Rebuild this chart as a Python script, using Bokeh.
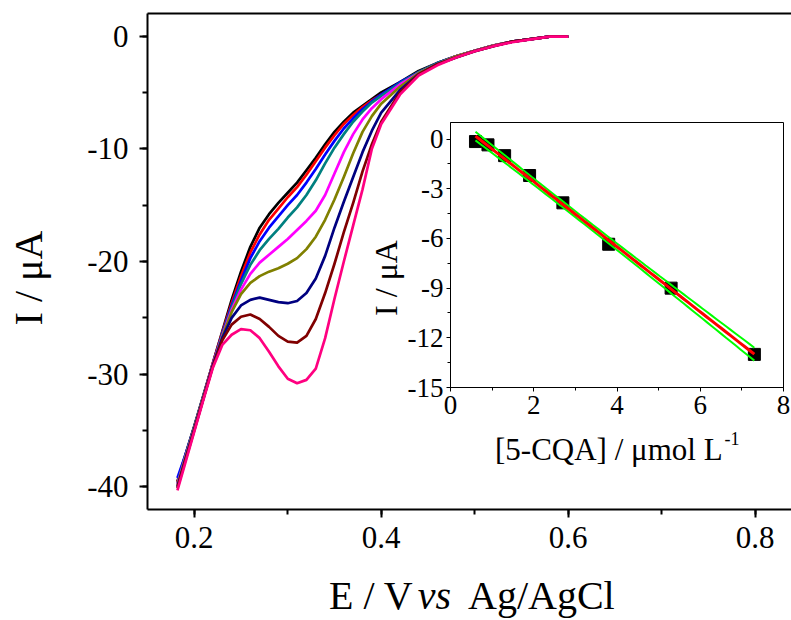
import numpy as np
from bokeh.plotting import figure
from bokeh.models import Range1d, LinearAxis, SingleIntervalTicker, FixedTicker, PrintfTickFormatter, Div
from bokeh.embed import file_html
from bokeh.resources import INLINE

FONT = "Liberation Serif"

# ---------------- main voltammograms ----------------
E = [0.182, 0.19, 0.20, 0.21, 0.22, 0.23, 0.24, 0.25, 0.26, 0.27, 0.28, 0.29, 0.30,
     0.31, 0.32, 0.33, 0.34, 0.35, 0.36, 0.37, 0.38, 0.39, 0.40, 0.42, 0.44, 0.46,
     0.48, 0.50, 0.52, 0.54, 0.56, 0.58, 0.60]

I_black = [-39.5, -37.3, -34.6, -31.8, -29.0, -26.2, -23.4, -20.9, -18.7, -17.0, -15.8, -14.8, -13.9,
           -13.0, -11.9, -10.8, -9.6, -8.5, -7.6, -6.8, -6.2, -5.6, -5.0, -4.1, -3.1, -2.4,
           -1.8, -1.3, -0.85, -0.5, -0.28, -0.05, -0.05]
I_red = [-39.6, -37.4, -34.7, -31.9, -29.0, -26.3, -23.7, -21.3, -19.2, -17.6, -16.3, -15.3, -14.3,
         -13.4, -12.3, -11.1, -9.9, -8.8, -7.8, -7.0, -6.3, -5.7, -5.2, -4.2, -3.2, -2.4,
         -1.8, -1.3, -0.85, -0.5, -0.28, -0.05, -0.05]
I_blue = [-39.2, -37.3, -34.7, -31.9, -29.1, -26.4, -23.9, -21.7, -19.7, -18.2, -17.0, -16.0, -15.0,
          -14.1, -13.0, -11.8, -10.5, -9.3, -8.2, -7.3, -6.5, -5.8, -5.2, -4.1, -3.2, -2.4,
          -1.8, -1.3, -0.85, -0.5, -0.28, -0.05, -0.05]
I_teal = [-39.7, -37.4, -34.7, -31.9, -29.1, -26.5, -24.1, -22.0, -20.3, -19.0, -18.0, -17.1, -16.1,
          -15.2, -14.1, -12.8, -11.3, -9.9, -8.7, -7.6, -6.7, -5.9, -5.3, -4.2, -3.2, -2.4,
          -1.8, -1.3, -0.85, -0.5, -0.28, -0.05, -0.05]
I_magenta = [-39.8, -37.5, -34.8, -32.0, -29.1, -26.6, -24.3, -22.5, -21.1, -20.1, -19.4, -18.7, -18.0,
             -17.2, -16.4, -15.5, -14.1, -12.2, -10.3, -8.7, -7.4, -6.4, -5.6, -4.3, -3.3, -2.5,
             -1.8, -1.3, -0.85, -0.5, -0.28, -0.05, -0.05]
I_olive = [-39.9, -37.6, -34.8, -32.0, -29.2, -26.7, -24.5, -22.9, -21.9, -21.3, -20.9, -20.6, -20.2,
           -19.7, -18.9, -17.8, -16.3, -14.5, -12.5, -10.4, -8.5, -7.1, -6.0, -4.5, -3.3, -2.5,
           -1.8, -1.3, -0.85, -0.5, -0.28, -0.05, -0.05]
I_navy = [-40.0, -37.7, -34.9, -32.1, -29.2, -26.8, -25.0, -23.9, -23.4, -23.2, -23.4, -23.6, -23.7,
          -23.5, -22.8, -21.5, -19.5, -17.0, -14.7, -12.5, -10.3, -8.4, -6.8, -4.8, -3.4, -2.5,
          -1.9, -1.35, -0.9, -0.5, -0.28, -0.05, -0.05]
I_maroon = [-40.1, -37.8, -35.0, -32.1, -29.3, -27.0, -25.6, -24.9, -24.7, -25.1, -25.8, -26.6, -27.1,
            -27.2, -26.6, -25.1, -22.8, -20.2, -17.4, -14.8, -12.0, -9.6, -7.6, -5.0, -3.4, -2.5,
            -1.9, -1.35, -0.9, -0.5, -0.28, -0.05, -0.05]
I_pink = [-40.3, -38.0, -35.1, -32.2, -29.4, -27.4, -26.5, -26.0, -26.1, -26.8, -28.0, -29.3, -30.4,
          -30.8, -30.5, -29.5, -26.8, -23.3, -20.0, -16.8, -13.6, -10.0, -7.8, -5.2, -3.5, -2.6,
          -1.9, -1.35, -0.9, -0.55, -0.3, -0.05, -0.05]

curves = [I_black, I_red, I_blue, I_teal, I_magenta, I_olive, I_navy, I_maroon, I_pink]
colors = ["#000000", "#FF0000", "#0000FF", "#008080", "#FF00FF", "#808000", "#000080", "#800000", "#FF0080"]

main_x_ticks_interval = 0.2
main_y_ticks_interval = 10

# ---------------- inset calibration ----------------
conc = [0.6, 0.9, 1.3, 1.9, 2.7, 3.8, 5.3, 7.3]
I_peak = [-0.15, -0.35, -1.0, -2.2, -3.85, -6.35, -9.0, -13.0]
T95 = 2.4469  # Student t, 6 degrees of freedom

# ---------------- layout (page pixels) ----------------
W, H = 791, 620
ML, MT, MB = 147, 13, 111
MX0, MX1, MY0, MY1 = 0.15, 0.8388, -42.0, 2.0

IL, IT = 360, 112
IBL, IBT, IBR, IBB = 90, 10, 8, 90
IW, IH = 431, 365
IX0, IX1, IY0, IY1 = 0.0, 8.0, -15.0, 1.0

# ---------------- main figure ----------------
p = figure(width=W, height=H, output_backend="svg", toolbar_location=None,
           x_range=Range1d(MX0, MX1), y_range=Range1d(MY0, MY1),
           min_border_left=ML, min_border_right=0, min_border_top=MT, min_border_bottom=MB)
p.outline_line_color = None
p.xgrid.grid_line_color = None
p.ygrid.grid_line_color = None
p.background_fill_color = "white"
p.border_fill_color = "white"

for ys, c in zip(curves, colors):
    p.line(E, ys, line_color=c, line_width=2.7, line_join="round")

for ax in (p.xaxis[0], p.yaxis[0]):
    ax.axis_line_width = 2
    ax.major_tick_line_width = 2
    ax.minor_tick_line_width = 2
    ax.major_tick_in = 0
    ax.major_tick_out = 8
    ax.minor_tick_in = 0
    ax.minor_tick_out = 5
    ax.major_label_text_font = FONT
    ax.major_label_text_font_size = "31px"
    ax.major_label_text_color = "black"

p.xaxis[0].ticker = SingleIntervalTicker(interval=main_x_ticks_interval, num_minor_ticks=2)
p.yaxis[0].ticker = SingleIntervalTicker(interval=main_y_ticks_interval, num_minor_ticks=2)
p.xaxis[0].formatter = PrintfTickFormatter(format="%.1f")
p.yaxis[0].formatter = PrintfTickFormatter(format="%d")
p.xaxis[0].major_label_standoff = 9
p.yaxis[0].major_label_standoff = 11

top = LinearAxis(ticker=FixedTicker(ticks=[]), axis_line_width=2, major_tick_out=0, minor_tick_out=0,
                 major_tick_in=0, minor_tick_in=0, major_label_text_font_size="0px")
p.add_layout(top, "above")

# ---------------- inset figure ----------------
ins = figure(width=IW, height=IH, output_backend="svg", toolbar_location=None,
             x_range=Range1d(IX0, IX1), y_range=Range1d(IY0, IY1),
             min_border_left=IBL, min_border_right=IBR, min_border_top=IBT, min_border_bottom=IBB,
             styles={"position": "absolute", "left": f"{IL}px", "top": f"{IT}px"})
ins.border_fill_color = None
ins.background_fill_color = "white"
ins.outline_line_color = "black"
ins.outline_line_width = 1
ins.xgrid.grid_line_color = None
ins.ygrid.grid_line_color = None

x = np.array(conc)
y = np.array(I_peak)
slope, icpt = np.polyfit(x, y, 1)
resid = y - (slope * x + icpt)
s = np.sqrt(np.sum(resid ** 2) / (len(x) - 2))
sxx = np.sum((x - x.mean()) ** 2)
xf = np.linspace(x.min(), x.max(), 60)
yf = slope * xf + icpt
half = T95 * s * np.sqrt(1.0 / len(x) + (xf - x.mean()) ** 2 / sxx)

ins.scatter(conc, I_peak, marker="square", size=12, fill_color="black", line_color="black")
ins.line(xf, yf + half, line_color="#00FF00", line_width=2)
ins.line(xf, yf - half, line_color="#00FF00", line_width=2)
ins.line(xf, yf, line_color="#FF0000", line_width=3)

for ax in (ins.xaxis[0], ins.yaxis[0]):
    ax.axis_line_width = 1
    ax.major_tick_line_width = 1
    ax.minor_tick_line_width = 1
    ax.major_tick_in = 0
    ax.major_tick_out = 4
    ax.minor_tick_in = 0
    ax.minor_tick_out = 3
    ax.major_label_text_font = FONT
    ax.major_label_text_font_size = "27px"
    ax.major_label_text_color = "black"
ins.xaxis[0].ticker = SingleIntervalTicker(interval=2, num_minor_ticks=2)
ins.yaxis[0].ticker = SingleIntervalTicker(interval=3, num_minor_ticks=2)
ins.xaxis[0].formatter = PrintfTickFormatter(format="%d")
ins.yaxis[0].formatter = PrintfTickFormatter(format="%d")
ins.xaxis[0].major_label_standoff = 4
ins.yaxis[0].major_label_standoff = 3


# ---------------- axis titles as HTML text ----------------
def title_div(html, left, top, w, h, size, rotate=False):
    st = {"position": "absolute", "left": f"{left}px", "top": f"{top}px",
          "margin": "0", "padding": "0", "overflow": "visible"}
    if rotate:
        st["transform"] = "rotate(-90deg)"
        st["transform-origin"] = "50% 50%"
    inner = (f'<div style="font-family:\'{FONT}\';font-size:{size}px;line-height:{h}px;'
             f'color:black;white-space:nowrap;text-align:{"center" if rotate else "left"};'
             f'width:{w}px;height:{h}px;margin:0;padding:0;">{html}</div>')
    return Div(text=inner, width=w, height=h, styles=st)


x_title = title_div('E / V<i style="margin-left:5px">vs</i><span style="margin-left:17px">Ag/AgCl</span>',
                    329, 576, 330, 40, 40)
y_title = title_div('I / \u03bcA', -26, 258, 110, 40, 40, rotate=True)
ix_title = title_div('[5-CQA] / \u03bcmol L<span style="font-size:18px;position:relative;top:-15px;'
                     'margin-left:2px">-1</span>', 495, 434, 260, 31, 31)
iy_title = title_div('I / \u03bcA', 341, 262, 90, 32, 32, rotate=True)

open("out.html", "w").write(file_html([p, ins, x_title, y_title, ix_title, iy_title], INLINE))
